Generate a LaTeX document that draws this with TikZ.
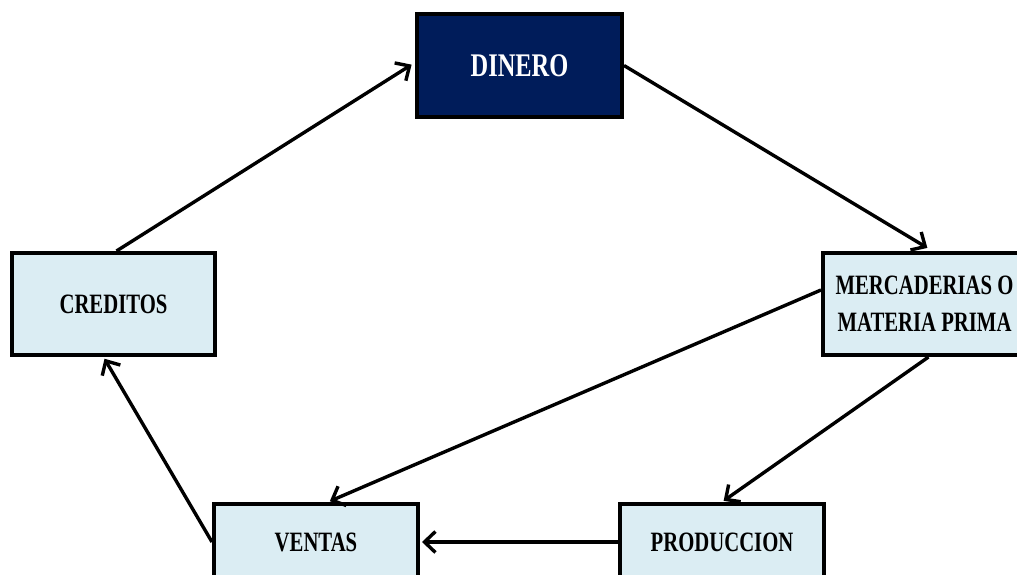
\documentclass[tikz,border=0pt]{standalone}
\usepackage{fontspec}
\setmainfont{Liberation Serif}
\newfontfamily\boxfont[FakeStretch=0.74]{Liberation Serif}
\usetikzlibrary{arrows.meta}
\definecolor{navybox}{RGB}{0,28,90}
\definecolor{palebox}{RGB}{219,237,243}
\tikzset{
  cyclebox/.style={draw=black, line width=4pt, fill=palebox, minimum width=203pt,
    minimum height=102pt, inner sep=0pt, align=center, text=black,
    font=\boxfont\bfseries\fontsize{28}{37}\selectfont},
  moneybox/.style={cyclebox, fill=navybox, text=white, minimum width=205pt,
    minimum height=103pt, font=\boxfont\bfseries\fontsize{33}{37}\selectfont},
  flow/.style={line width=3.4pt, -{Straight Barb[length=11pt,width=21pt,line width=3.4pt]},
    shorten >=2pt}
}
\begin{document}
\begin{tikzpicture}[x=1pt,y=-1pt]
  \useasboundingbox (0,0) rectangle (1017,575);
  \clip (0,0) rectangle (1017,575);
  \fill[white] (0,0) rectangle (1017,575);

  % the cycle of working capital
  \node[moneybox] (din) at (519.5,65.5) {DINERO};
  \node[cyclebox] (cred) at (113.5,304) {CREDITOS};
  \node[cyclebox] (merc) at (924.5,304) {MERCADERIAS O\\MATERIA PRIMA};
  \node[cyclebox, minimum height=76pt, minimum width=204pt] (vent) at (316,542) {VENTAS};
  \node[cyclebox, minimum height=76pt, minimum width=204pt] (prod) at (722,542) {PRODUCCION};

  % connectors
  \draw[flow, shorten >=4pt] ([xshift=3pt]cred.north) -- ([yshift=3pt]din.west);
  \draw[flow, shorten >=6pt] (din.east) -- ([xshift=8pt]merc.north);
  \draw[flow] ([xshift=4pt]merc.south) -- (prod.north);
  \draw[flow] ([yshift=14pt]merc.west) -- ([xshift=12pt]vent.north);
  \draw[flow] (prod.west) -- (vent.east);
  \draw[flow] (vent.west) -- ([xshift=-10pt]cred.south);
\end{tikzpicture}
\end{document}
